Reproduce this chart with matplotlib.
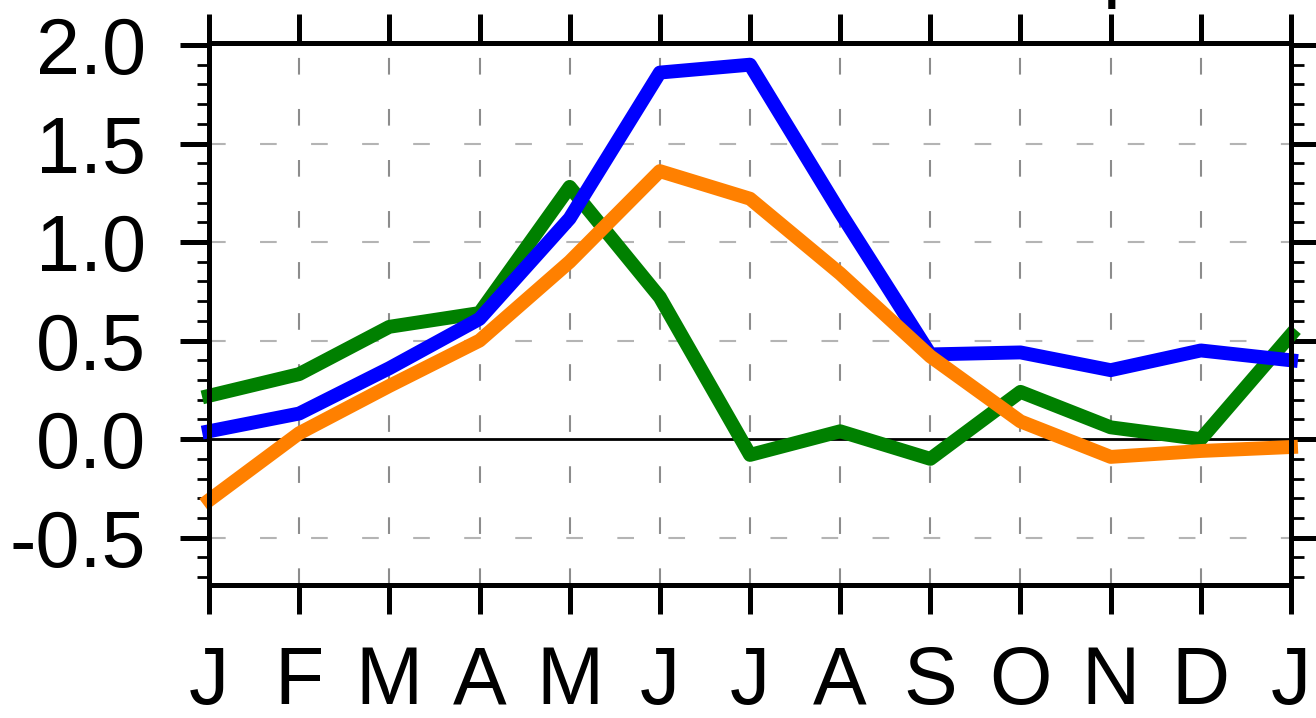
#!/usr/bin/env python3
"""Monthly cycle of three series, NCL-style line plot."""

import matplotlib
matplotlib.use("Agg")
import matplotlib.pyplot as plt
import matplotlib.ticker as mticker

plt.rcParams["font.family"] = ["Liberation Sans", "DejaVu Sans"]

# month index 0..12 (Jan .. Jan of next year)
months = list(range(13))
month_labels = ["J", "F", "M", "A", "M", "J", "J", "A", "S", "O", "N", "D", "J"]

green_vals = [0.22, 0.33, 0.57, 0.64, 1.28, 0.72, -0.08, 0.04, -0.10, 0.24, 0.06, 0.0, 0.53]
blue_vals = [0.04, 0.13, 0.36, 0.61, 1.12, 1.86, 1.90, 1.15, 0.43, 0.44, 0.35, 0.45, 0.40]
orange_vals = [-0.31, 0.03, 0.27, 0.50, 0.90, 1.36, 1.22, 0.84, 0.42, 0.09, -0.09, -0.06, -0.04]

fig = plt.figure(figsize=(13.16, 7.18), dpi=100)
ax = fig.add_axes([209 / 1316, 1 - 585 / 718, (1291 - 209) / 1316, (585 - 43) / 718])

ax.set_xlim(0, 12)
ax.set_ylim(-0.74, 2.01)

# dashed grid
for m in months[1:-1]:
    ax.axvline(m, color="#8c8c8c", lw=1.5, dashes=(8, 16.5), zorder=1)
for y in [-0.5, 0.5, 1.0, 1.5]:
    ax.axhline(y, color="#b4b4b4", lw=1.5, dashes=(8, 16.5), zorder=1)
ax.axhline(0, color="black", lw=2, zorder=2)

lw = 10
ax.plot(months, green_vals, color="#008000", lw=lw, clip_on=False, zorder=3)
ax.plot(months, blue_vals, color="#0000ff", lw=lw, clip_on=False, zorder=4)
ax.plot(months, orange_vals, color="#ff8000", lw=lw, clip_on=False, zorder=5)

for s in ax.spines.values():
    s.set_linewidth(3.6)
    s.set_zorder(6)

ax.set_xticks(months)
ax.set_xticklabels(month_labels, fontsize=58)
ax.tick_params(axis="x", which="major", direction="out", length=21, width=3.6,
               top=True, labeltop=False, pad=22)

ax.yaxis.set_major_locator(mticker.MultipleLocator(0.5))
ax.yaxis.set_minor_locator(mticker.MultipleLocator(0.1))
ax.yaxis.set_major_formatter(mticker.FormatStrFormatter("%.1f"))
ax.tick_params(axis="y", which="major", direction="out", length=21, width=3.6,
               right=True, labelsize=57, pad=24)
ax.tick_params(axis="y", which="minor", direction="out", length=9, width=2,
               right=True)

# bottom of a cut-off title stroke
fig.text(1112 / 1316, 1.025, "|", fontsize=40, ha="center", va="center",
         fontweight="bold")

fig.savefig("out.png", dpi=100)
